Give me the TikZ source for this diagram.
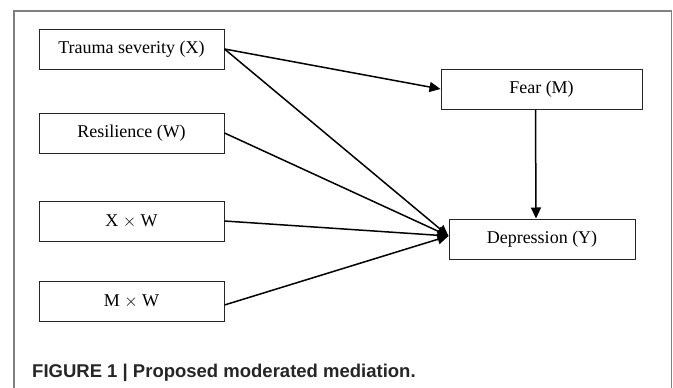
\documentclass[tikz,border=0pt]{standalone}
\usepackage{fontspec}
\setmainfont{Liberation Serif}
\newfontfamily\capfont{Liberation Sans}
\usetikzlibrary{arrows.meta}
\begin{document}
\begin{tikzpicture}[x=1pt,y=-1pt,
  boxnode/.style={draw=black!85,line width=1pt,minimum height=40pt,inner sep=0pt,font=\fontsize{18}{21}\selectfont},
  conn/.style={line width=1.5pt,-{Triangle[length=11pt,width=10pt]}},
  frameline/.style={draw=black!50,line width=1.5pt}]
\useasboundingbox (0,0) rectangle (673,388);
\fill[white] (0,0) rectangle (673,388);
\draw[frameline] (14,388) -- (14,11) -- (671.5,11) -- (671.5,388);
\node[boxnode,minimum width=185pt] (x) at (131.5,49) {Trauma severity (X)};
\node[boxnode,minimum width=185pt] (w) at (131.5,133) {Resilience (W)};
\node[boxnode,minimum width=185pt] (xw) at (131.5,221) {X $\times$ W};
\node[boxnode,minimum width=185pt] (mw) at (131.5,301) {M $\times$ W};
\node[boxnode,minimum width=201pt] (m) at (541.5,89) {Fear (M)};
\node[boxnode,minimum width=186pt] (y) at (542,239) {Depression (Y)};
\coordinate (conv) at ([yshift=3pt]y.west);
\draw[conn] (x.east) -- (m.west);
\draw[conn] (x.east) -- (conv);
\draw[conn] (w.east) -- (conv);
\draw[conn] (xw.east) -- (conv);
\draw[conn] ([yshift=-4pt]mw.east) -- (conv);
\draw[conn] ([xshift=-6pt]m.south) -- ([xshift=-6pt]y.north);
\node[anchor=base west,inner sep=0pt,text=black!85,font=\capfont\bfseries\fontsize{18.5}{22}\selectfont] (cap) at (32,377) {FIGURE 1 | Proposed moderated mediation.};
\end{tikzpicture}
\end{document}
